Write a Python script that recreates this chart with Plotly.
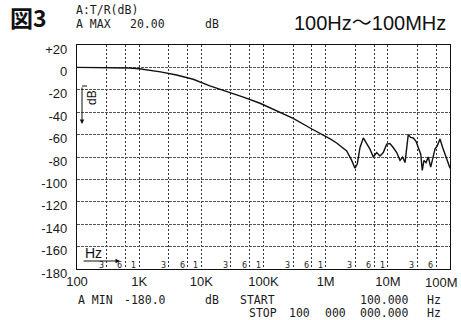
import math
import plotly.graph_objects as go

# ---------------- data ----------------
freq_hz = [100, 300, 500, 700, 1000, 1500, 2200, 4000, 7400, 13700, 20000, 25700,
           47500, 88000, 180000, 300000, 600000, 800000, 1.2e6, 1.5e6,
           1.70e6, 2.18e6, 2.62e6, 2.96e6, 3.23e6, 3.57e6, 4.03e6, 4.57e6, 5.16e6,
           5.84e6, 6.62e6, 7.48e6, 8.45e6, 9.59e6, 10.8e6, 12.2e6, 13.9e6, 15.7e6,
           17.3e6, 18.9e6, 20.1e6, 21.3e6, 23.3e6, 25.7e6, 28.4e6, 30.9e6, 33.8e6,
           35.8e6, 38.1e6, 41.1e6, 44.8e6, 48.9e6, 52.7e6, 57.3e6, 62.4e6, 69.0e6,
           76.2e6, 86.1e6, 97.3e6, 100e6]
gain_db = [0, 0, -0.2, -0.5, -1.2, -2.4, -4, -6.8, -10.6, -16.5, -19.5, -21.7,
           -26.5, -32, -40, -45.5, -55, -58.5, -64, -67.5,
           -70, -74.5, -83, -90, -86, -71.5, -63, -68.5, -73,
           -80, -76, -79, -76, -68.5, -68, -71.5, -76, -83,
           -80, -85, -70, -60, -62.5, -63, -66, -71.5, -77.5,
           -92, -83, -85, -80, -89, -82, -73, -70, -64,
           -71.5, -80, -88, -90]

x_grid = [100, 300, 600, 1e3, 3e3, 6e3, 1e4, 3e4, 6e4, 1e5, 3e5, 6e5,
          1e6, 3e6, 6e6, 1e7, 3e7, 6e7, 1e8]
x_grid_text = ["100", "", "", "1K", "", "", "10K", "", "", "100K", "", "",
               "1M", "", "", "10M", "", "", "100M"]
y_ticks = [20, 0, -20, -40, -60, -80, -100, -120, -140, -160, -180]
y_tick_text = ["+20", "0", "-20", "-40", "-60", "-80", "-100", "-120", "-140", "-160", "-180"]

mark_freqs = [300, 600, 1e3, 3e3, 6e3, 1e4, 3e4, 6e4, 1e5, 3e5, 6e5, 1e6,
              3e6, 6e6, 1e7, 3e7, 6e7]
mark_text = ["3", "6", "1", "3", "6", "1", "3", "6", "1", "3", "6", "1",
             "3", "6", "1", "3", "6"]

# ---------------- layout helpers ----------------
W, H = 461, 320
L, R, T, B = 77, 11, 45, 51
PW, PH = W - L - R, H - T - B


def px(xp):
    return (xp - L) / PW


def py(yp):
    return (H - B - yp) / PH


MONO = "DejaVu Sans Mono"
SANS = "Liberation Sans, Arial, sans-serif"

fig = go.Figure()
fig.add_trace(go.Scatter(x=freq_hz, y=gain_db, mode="lines",
                         line=dict(color="#111", width=1.4), showlegend=False,
                         hoverinfo="skip"))

anns = []
# title texts
anns.append(dict(text="<b>図3</b>", x=px(8), y=py(17), xref="paper", yref="paper",
                 xanchor="left", yanchor="middle", showarrow=False,
                 font=dict(family="Noto Sans CJK JP", size=23, color="#111")))
anns.append(dict(text="100Hz〜100MHz", x=px(448), y=py(23), xref="paper", yref="paper",
                 xanchor="right", yanchor="middle", showarrow=False,
                 font=dict(family="Liberation Sans, Noto Sans CJK JP", size=20, color="#111")))

mono_words = [
    ("A:T/R(dB)", 74, 10), ("A MAX", 74, 23.5), ("20.00", 128, 23.5), ("dB", 203, 23.5),
    ("A MIN", 76, 300), ("-180.0", 121.5, 300), ("dB", 203, 300), ("START", 238, 300),
    ("100.000", 358, 300), ("Hz", 425, 300),
    ("STOP", 246.5, 313), ("100", 286.5, 313), ("000", 323, 313),
    ("000.000", 358, 313), ("Hz", 425, 313),
]
for txt, xx, yy in mono_words:
    anns.append(dict(text=txt, x=px(xx), y=py(yy), xref="paper", yref="paper",
                     xanchor="left", yanchor="middle", showarrow=False,
                     font=dict(family=MONO, size=11.5, color="#1a1a1a")))

# last decade label placed inside the page edge (it is clipped in the original)
anns.append(dict(text=x_grid_text[-1], x=px(460), y=py(282.5), xref="paper", yref="paper",
                 xanchor="right", yanchor="middle", showarrow=False,
                 font=dict(family=SANS, size=13, color="#1a1a1a")))

# small 3 6 1 marks inside the plot bottom
for f, t in zip(mark_freqs, mark_text):
    anns.append(dict(text=t, x=math.log10(f), y=py(265.5), xref="x", yref="paper",
                     xanchor="right", yanchor="middle", xshift=-1, showarrow=False,
                     font=dict(family="DejaVu Sans", size=8, color="#222")))

# dB marker with arrow
anns.append(dict(text="dB", x=px(92), y=py(98), xref="paper", yref="paper",
                 textangle=-90, showarrow=False, xanchor="center", yanchor="middle",
                 font=dict(family=SANS, size=12, color="#111")))
anns.append(dict(text="", x=px(82), y=py(124), xref="paper", yref="paper",
                 ax=0, ay=-38, showarrow=True, arrowhead=2, arrowsize=0.9,
                 arrowwidth=1, arrowcolor="#111"))
# Hz marker with arrow
anns.append(dict(text="Hz", x=px(93), y=py(253), xref="paper", yref="paper",
                 showarrow=False, xanchor="center", yanchor="middle",
                 font=dict(family=SANS, size=14, color="#111")))
anns.append(dict(text="", x=px(120), y=py(261), xref="paper", yref="paper",
                 ax=-38, ay=0, showarrow=True, arrowhead=2, arrowsize=0.9,
                 arrowwidth=1, arrowcolor="#111"))

shapes = [dict(type="line", xref="paper", yref="paper", x0=px(82), x1=px(87),
               y0=py(86), y1=py(86), line=dict(color="#111", width=1))]

fig.update_layout(
    width=W, height=H,
    margin=dict(l=L, r=R, t=T, b=B, pad=0, autoexpand=False),
    paper_bgcolor="white", plot_bgcolor="white",
    annotations=anns, shapes=shapes,
    xaxis=dict(type="log", range=[2, 8], tickmode="array", tickvals=x_grid,
               ticktext=x_grid_text[:-1] + [""], showgrid=True, gridcolor="#333",
               griddash="2px,2px", gridwidth=1, showline=True, mirror=True,
               linecolor="#111", linewidth=1.3, ticks="", zeroline=False,
               automargin=False,
               tickfont=dict(family=SANS, size=13, color="#1a1a1a")),
    yaxis=dict(range=[-180, 20], tickmode="array", tickvals=y_ticks,
               ticktext=y_tick_text, showgrid=True, gridcolor="#555",
               griddash="3px,1px", gridwidth=1, showline=True, mirror=True,
               linecolor="#111", linewidth=1.3, ticks="", zeroline=False,
               ticklabelstandoff=6, ticklabelshift=4, automargin=False,
               tickfont=dict(family=SANS, size=13, color="#1a1a1a")),
)

fig.write_html("out.html")
